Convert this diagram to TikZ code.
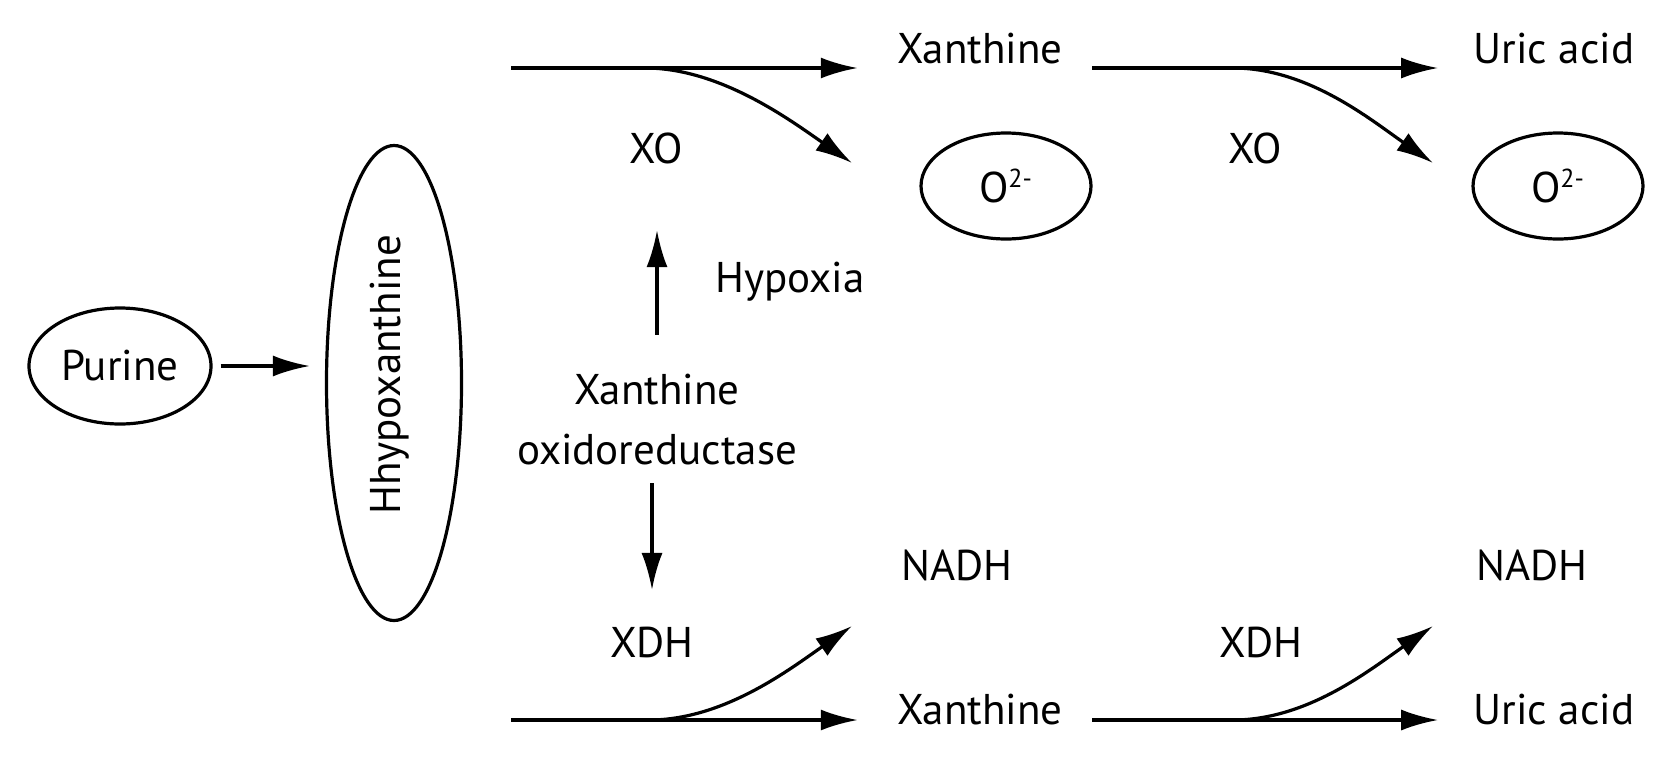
\documentclass[tikz,border=0pt]{standalone}
\usepackage{fontspec}
\setmainfont{PT Sans}
\usetikzlibrary{arrows.meta,positioning,shapes.geometric}

\begin{document}
\begin{tikzpicture}[x=0.5pt, y=-0.5pt, line width=1.6pt, font=\fontsize{21.5}{30}\selectfont,
	arr/.style = {-{Latex[length=18.5pt, width=10.5pt]}},
	lbl/.style = {inner sep=0pt, anchor=base},
	oval/.style = {draw, ellipse, inner sep=0pt}]
\useasboundingbox (0,0) rectangle (1674,761);

\node[oval, minimum width=91pt, minimum height=58pt]		(purine)	at (120,366) {Purine};
\node[oval, minimum width=67.5pt, minimum height=237.5pt]	(hypo)		at (394,383) {};
\node[lbl, rotate=90]										(hypotext)	at (400,375) {Hhypoxanthine};

% oxidase route (top)
\node[lbl]													(xan1)		at (980,63)  {Xanthine};
\node[lbl]													(uric1)		at (1554,63) {Uric acid};
\node[lbl]													(xo1)		at (656,163) {XO};
\node[lbl]													(xo2)		at (1255,163) {XO};
\node[oval, minimum width=85pt, minimum height=53pt]		(oxy1)		at (1006,186) {O\textsuperscript{\fontsize{13}{13}\selectfont 2-}};
\node[oval, minimum width=85pt, minimum height=53pt]		(oxy2)		at (1558,186) {O\textsuperscript{\fontsize{13}{13}\selectfont 2-}};

% enzyme in the middle
\node[lbl]													(hypoxia)	at (790,292) {Hypoxia};
\node[align=center, inner sep=0pt]							(xor)		at (657,420) {Xanthine\\oxidoreductase};

% dehydrogenase route (bottom)
\node[lbl]													(nadh1)		at (957,580) {NADH};
\node[lbl]													(nadh2)		at (1532,580) {NADH};
\node[lbl]													(xdh1)		at (652,657) {XDH};
\node[lbl]													(xdh2)		at (1261,657) {XDH};
\node[lbl]													(xan2)		at (980,724) {Xanthine};
\node[lbl]													(uric2)		at (1554,724) {Uric acid};

\coordinate (top in 1)	at (511,68);
\coordinate (top in 2)	at (1092,68);
\coordinate (top fork 1) at (645,68);
\coordinate (top fork 2) at (1233,68);
\coordinate (top o2 1)	at (852,163);
\coordinate (top o2 2)	at (1433,163);
\coordinate (bot in 1)	at (511,720);
\coordinate (bot in 2)	at (1092,720);
\coordinate (bot fork 1) at (649,720);
\coordinate (bot fork 2) at (1233,720);
\coordinate (bot nadh 1) at (852,626);
\coordinate (bot nadh 2) at (1433,626);

\draw[arr, shorten <=4pt, shorten >=7.5pt] (purine.east) -- (purine.east -| hypo.west);

\draw[arr, shorten >=19pt] (top in 1) -- (top in 1 -| xan1.west);
\draw[arr] (top fork 1) .. controls +(75,0) and +(-62,-43) .. (top o2 1);
\draw[arr, shorten >=17pt] (top in 2) -- (top in 2 -| uric1.west);
\draw[arr] (top fork 2) .. controls +(75,0) and +(-62,-43) .. (top o2 2);

\draw[arr, shorten <=19pt, shorten >=32.5pt] (xor.north) -- (xor.north |- xo1.south);
\draw[arr, shorten <=8pt, shorten >=17.5pt] (xor.south -| xdh1.north) -- (xdh1.north);

\draw[arr, shorten >=19pt] (bot in 1) -- (bot in 1 -| xan2.west);
\draw[arr] (bot fork 1) .. controls +(75,0) and +(-62,43) .. (bot nadh 1);
\draw[arr, shorten >=17pt] (bot in 2) -- (bot in 2 -| uric2.west);
\draw[arr] (bot fork 2) .. controls +(75,0) and +(-62,43) .. (bot nadh 2);

\end{tikzpicture}
\end{document}
